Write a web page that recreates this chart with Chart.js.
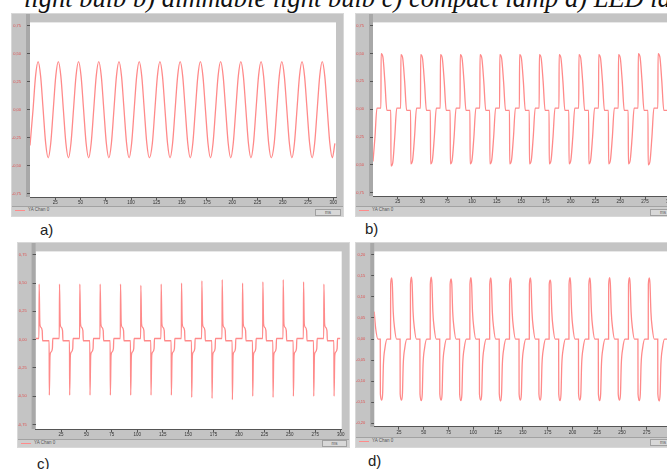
<!DOCTYPE html>
<html>
<head>
<meta charset="utf-8">
<script src="https://cdn.jsdelivr.net/npm/chart.js@4.4.0/dist/chart.umd.min.js"></script>
<style>
  body { margin: 0; width: 667px; height: 469px; overflow: hidden; background: #fff; position: relative; }
  .caption { position: absolute; left: 24px; top: -15px; font: italic 26.5px/1 "Liberation Serif", serif; white-space: nowrap; color: #111; }
  .panel { position: absolute; box-sizing: border-box; background: #c4c4c4; border: 1px solid #d8d8d8; }
  .panel canvas { position: absolute; left: 0; top: 0; }
  .legend { position: absolute; left: 0; right: 0; background: #cecece; border-top: 1px solid #a2a2a2; box-sizing: border-box; }
  .legend .swatch { position: absolute; left: 3px; top: 3px; width: 10px; height: 1px; background: #ff8a8a; }
  .legend .name { position: absolute; left: 16px; top: 1px; font: 4.5px/1 "Liberation Sans", sans-serif; color: #555; white-space: nowrap; }
  .unit { position: absolute; box-sizing: border-box; background: #d8d8d8; border: 1px solid #a0a0a0; font: 4.5px/5px "Liberation Sans", sans-serif; color: #555; text-align: center; }
  .tag { position: absolute; font: 15px/1 "Liberation Sans", sans-serif; color: #222; }
</style>
</head>
<body>
<div class="caption">light bulb b) dimmable light bulb c) compact lamp d) LED lamp</div>

<div class="panel" style="left:11px; top:13px; width:333px; height:204px;">
  <canvas id="chartA" width="331" height="192"></canvas>
  <div class="legend" style="top:192px; height:10px;"><span class="swatch"></span><span class="name">YA Chan 0</span></div>
  <div class="unit" style="left:303px; top:195px; width:26px; height:7px;">ms</div>
</div>
<div class="panel" style="left:355px; top:13px; width:322px; height:204px;">
  <canvas id="chartB" width="320" height="192"></canvas>
  <div class="legend" style="top:192px; height:10px;"><span class="swatch"></span><span class="name">YA Chan 0</span></div>
  <div class="unit" style="left:294px; top:195px; width:26px; height:7px;">ms</div>
</div>
<div class="panel" style="left:17px; top:242px; width:333px; height:206px;">
  <canvas id="chartC" width="331" height="196"></canvas>
  <div class="legend" style="top:196px; height:8px;"><span class="swatch"></span><span class="name">YA Chan 0</span></div>
  <div class="unit" style="left:304px; top:197px; width:25px; height:7px;">ms</div>
</div>
<div class="panel" style="left:355px; top:242px; width:322px; height:206px;">
  <canvas id="chartD" width="320" height="194"></canvas>
  <div class="legend" style="top:194px; height:10px;"><span class="swatch"></span><span class="name">YA Chan 0</span></div>
  <div class="unit" style="left:294px; top:196px; width:26px; height:7px;">ms</div>
</div>

<div class="tag" style="left:40px; top:222px;">a)</div>
<div class="tag" style="left:365px; top:221px;">b)</div>
<div class="tag" style="left:37px; top:456px;">c)</div>
<div class="tag" style="left:368px; top:453px;">d)</div>

<script>
// tick marks shared by the four scope windows
const xTicks = [25, 50, 75, 100, 125, 150, 175, 200, 225, 250, 275, 300];
const yTicksMain = [-0.75, -0.5, -0.25, 0, 0.25, 0.5, 0.75];
const yTicksLed = [-0.2, -0.15, -0.1, -0.05, 0, 0.05, 0.1, 0.15, 0.2];

// a) light bulb: time (ms) and value
const timeA = [
  0, 3, 5.5, 8, 10.5, 13, 15.5, 18,
  20.5, 23, 25.5, 28, 30.5, 33, 35.5, 38,
  40.5, 43, 45.5, 48, 50.5, 53, 55.5, 58,
  60.5, 63, 65.5, 68, 70.5, 73, 75.5, 78,
  80.5, 83, 85.5, 88, 90.5, 93, 95.5, 98,
  100.5, 103, 105.5, 108, 110.5, 113, 115.5, 118,
  121, 123.5, 126, 128.5, 131, 133.5, 136, 138.5,
  141, 143.5, 146, 148.5, 151, 153.5, 156, 158.5,
  161, 163.5, 166, 168.5, 171, 173.5, 176, 178.5,
  181, 183.5, 186, 188.5, 191, 193.5, 196, 198.5,
  201, 203.5, 206, 208.5, 211, 213.5, 216, 218.5,
  221, 223.5, 226, 228.5, 231, 233.5, 236, 238.5,
  241.5, 244, 246.5, 249, 251.5, 254, 256.5, 259,
  261.5, 264, 266.5, 269, 271.5, 274, 276.5, 279,
  281.5, 284, 286.5, 289, 291.5, 294, 296.5, 299,
  301.5
];
const valueA = [
  -0.32, 0.00, 0.30, 0.43, 0.30, 0.00, -0.30, -0.43,
  -0.30, 0.00, 0.30, 0.43, 0.30, 0.00, -0.30, -0.43,
  -0.30, 0.00, 0.30, 0.43, 0.30, 0.00, -0.30, -0.43,
  -0.30, 0.00, 0.30, 0.43, 0.30, 0.00, -0.30, -0.43,
  -0.30, 0.00, 0.30, 0.43, 0.30, 0.00, -0.30, -0.43,
  -0.30, 0.00, 0.30, 0.43, 0.30, 0.00, -0.30, -0.43,
  -0.30, 0.00, 0.30, 0.43, 0.30, 0.00, -0.30, -0.43,
  -0.30, 0.00, 0.30, 0.43, 0.30, 0.00, -0.30, -0.43,
  -0.30, 0.00, 0.30, 0.43, 0.30, 0.00, -0.30, -0.43,
  -0.30, 0.00, 0.30, 0.43, 0.30, 0.00, -0.30, -0.43,
  -0.30, 0.00, 0.30, 0.43, 0.30, 0.00, -0.30, -0.43,
  -0.30, 0.00, 0.30, 0.43, 0.30, 0.00, -0.30, -0.43,
  -0.30, 0.00, 0.30, 0.43, 0.30, 0.00, -0.30, -0.43,
  -0.30, 0.00, 0.30, 0.43, 0.30, 0.00, -0.30, -0.43,
  -0.30, 0.00, 0.30, 0.43, 0.30, 0.00, -0.30, -0.43,
  -0.30
];

// b) dimmable light bulb
const timeB = [
  0, 2, 4,
  8, 8.2, 10, 12, 14, 18, 18.2, 20, 22, 24,
  28, 28.2, 30, 32, 34, 38, 38.2, 40, 42, 44,
  48, 48.2, 50, 52, 54, 58, 58.2, 60, 62, 64,
  68, 68.2, 70, 72, 74, 78, 78.2, 80, 82, 84,
  88, 88.2, 90, 92, 94, 98, 98.2, 100, 102, 104,
  108, 108.2, 110, 112, 114, 118, 118.2, 120, 122, 124,
  128, 128.2, 130, 132, 134, 138, 138.2, 140, 142, 144,
  148, 148.2, 150, 152, 154, 158, 158.2, 160, 162, 164,
  168, 168.2, 170, 172, 174, 178, 178.2, 180, 182, 184,
  188, 188.2, 190, 192, 194, 198, 198.2, 200, 202, 204,
  208, 208.2, 210, 212, 214, 218, 218.2, 220, 222, 224,
  228, 228.2, 230, 232, 234, 238, 238.2, 240, 242, 244,
  248, 248.2, 250, 252, 254, 258, 258.2, 260, 262, 264,
  268, 268.2, 270, 272, 274, 278, 278.2, 280, 282, 284,
  288, 288.2, 290, 292, 294, 298, 298.2, 300, 302, 304
];
const valueB = [
  -0.47, -0.25, 0.01,
  0.01, 0.50, 0.47, 0.25, -0.01, -0.01, -0.51, -0.48, -0.25, 0.01,
  0.01, 0.49, 0.46, 0.25, -0.01, -0.01, -0.49, -0.46, -0.25, 0.01,
  0.01, 0.49, 0.46, 0.25, -0.01, -0.01, -0.49, -0.46, -0.25, 0.01,
  0.01, 0.49, 0.46, 0.25, -0.01, -0.01, -0.49, -0.46, -0.25, 0.01,
  0.01, 0.49, 0.46, 0.25, -0.01, -0.01, -0.49, -0.46, -0.25, 0.01,
  0.01, 0.49, 0.46, 0.25, -0.01, -0.01, -0.49, -0.46, -0.25, 0.01,
  0.01, 0.49, 0.46, 0.25, -0.01, -0.01, -0.49, -0.46, -0.25, 0.01,
  0.01, 0.49, 0.46, 0.25, -0.01, -0.01, -0.49, -0.46, -0.25, 0.01,
  0.01, 0.49, 0.46, 0.25, -0.01, -0.01, -0.49, -0.46, -0.25, 0.01,
  0.01, 0.49, 0.46, 0.25, -0.01, -0.01, -0.49, -0.46, -0.25, 0.01,
  0.01, 0.49, 0.46, 0.25, -0.01, -0.01, -0.49, -0.46, -0.25, 0.01,
  0.01, 0.49, 0.46, 0.25, -0.01, -0.01, -0.49, -0.46, -0.25, 0.01,
  0.01, 0.49, 0.46, 0.25, -0.01, -0.01, -0.49, -0.46, -0.25, 0.01,
  0.01, 0.50, 0.47, 0.25, -0.01, -0.01, -0.50, -0.47, -0.25, 0.01,
  0.01, 0.50, 0.47, 0.25, -0.01, -0.01, -0.51, -0.48, -0.25, 0.01
];

// c) compact lamp
const timeC = [
  0,
  3.3, 3.5, 4.2, 5.1, 6.5, 6.9, 13.3, 13.5, 14.2, 15.1, 16.5, 16.9,
  23.3, 23.5, 24.2, 25.1, 26.5, 26.9, 33.3, 33.5, 34.2, 35.1, 36.5, 36.9,
  43.3, 43.5, 44.2, 45.1, 46.5, 46.9, 53.3, 53.5, 54.2, 55.1, 56.5, 56.9,
  63.3, 63.5, 64.2, 65.1, 66.5, 66.9, 73.3, 73.5, 74.2, 75.1, 76.5, 76.9,
  83.3, 83.5, 84.2, 85.1, 86.5, 86.9, 93.3, 93.5, 94.2, 95.1, 96.5, 96.9,
  103.3, 103.5, 104.2, 105.1, 106.5, 106.9, 113.3, 113.5, 114.2, 115.1, 116.5, 116.9,
  123.3, 123.5, 124.2, 125.1, 126.5, 126.9, 133.3, 133.5, 134.2, 135.1, 136.5, 136.9,
  143.3, 143.5, 144.2, 145.1, 146.5, 146.9, 153.3, 153.5, 154.2, 155.1, 156.5, 156.9,
  163.3, 163.5, 164.2, 165.1, 166.5, 166.9, 173.3, 173.5, 174.2, 175.1, 176.5, 176.9,
  183.3, 183.5, 184.2, 185.1, 186.5, 186.9, 193.3, 193.5, 194.2, 195.1, 196.5, 196.9,
  203.3, 203.5, 204.2, 205.1, 206.5, 206.9, 213.3, 213.5, 214.2, 215.1, 216.5, 216.9,
  223.3, 223.5, 224.2, 225.1, 226.5, 226.9, 233.3, 233.5, 234.2, 235.1, 236.5, 236.9,
  243.3, 243.5, 244.2, 245.1, 246.5, 246.9, 253.3, 253.5, 254.2, 255.1, 256.5, 256.9,
  263.3, 263.5, 264.2, 265.1, 266.5, 266.9, 273.3, 273.5, 274.2, 275.1, 276.5, 276.9,
  283.3, 283.5, 284.2, 285.1, 286.5, 286.9, 293.3, 293.5, 294.2, 295.1, 296.5, 296.9,
  299.5
];
const valueC = [
  0.01,
  0.01, 0.49, 0.14, 0.11, 0.08, -0.01, -0.01, -0.49, -0.14, -0.11, -0.08, 0.01,
  0.01, 0.49, 0.14, 0.11, 0.08, -0.01, -0.01, -0.49, -0.14, -0.11, -0.08, 0.01,
  0.01, 0.49, 0.14, 0.11, 0.08, -0.01, -0.01, -0.49, -0.14, -0.11, -0.08, 0.01,
  0.01, 0.49, 0.14, 0.11, 0.08, -0.01, -0.01, -0.49, -0.14, -0.11, -0.08, 0.01,
  0.01, 0.49, 0.14, 0.11, 0.08, -0.01, -0.01, -0.49, -0.14, -0.11, -0.08, 0.01,
  0.01, 0.48, 0.14, 0.11, 0.08, -0.01, -0.01, -0.49, -0.14, -0.11, -0.08, 0.01,
  0.01, 0.49, 0.14, 0.11, 0.08, -0.01, -0.01, -0.49, -0.14, -0.11, -0.08, 0.01,
  0.01, 0.50, 0.14, 0.11, 0.08, -0.01, -0.01, -0.51, -0.14, -0.11, -0.08, 0.01,
  0.01, 0.52, 0.14, 0.11, 0.08, -0.01, -0.01, -0.52, -0.14, -0.11, -0.08, 0.01,
  0.01, 0.53, 0.14, 0.11, 0.08, -0.01, -0.01, -0.53, -0.14, -0.11, -0.08, 0.01,
  0.01, 0.50, 0.14, 0.11, 0.08, -0.01, -0.01, -0.50, -0.14, -0.11, -0.08, 0.01,
  0.01, 0.51, 0.14, 0.11, 0.08, -0.01, -0.01, -0.51, -0.14, -0.11, -0.08, 0.01,
  0.01, 0.53, 0.14, 0.11, 0.08, -0.01, -0.01, -0.50, -0.14, -0.11, -0.08, 0.01,
  0.01, 0.51, 0.14, 0.11, 0.08, -0.01, -0.01, -0.50, -0.14, -0.11, -0.08, 0.01,
  0.01, 0.49, 0.14, 0.11, 0.08, -0.01, -0.01, -0.50, -0.14, -0.11, -0.08, 0.01,
  0.01
];

// d) LED lamp
const timeD = [
  0, 1.5, 3.8,
  6.1, 6.2, 7.6, 8.5, 9.3, 10.8, 13.0, 16.5, 16.6, 17.6, 18.3, 19.2, 20.6, 22.6,
  26.1, 26.2, 27.6, 28.5, 29.3, 30.8, 33.0, 36.5, 36.6, 37.6, 38.3, 39.2, 40.6, 42.6,
  46.1, 46.2, 47.6, 48.5, 49.3, 50.8, 53.0, 56.5, 56.6, 57.6, 58.3, 59.2, 60.6, 62.6,
  66.1, 66.2, 67.6, 68.5, 69.3, 70.8, 73.0, 76.5, 76.6, 77.6, 78.3, 79.2, 80.6, 82.6,
  86.1, 86.2, 87.6, 88.5, 89.3, 90.8, 93.0, 96.5, 96.6, 97.6, 98.3, 99.2, 100.6, 102.6,
  106.1, 106.2, 107.6, 108.5, 109.3, 110.8, 113.0, 116.5, 116.6, 117.6, 118.3, 119.2, 120.6, 122.6,
  126.1, 126.2, 127.6, 128.5, 129.3, 130.8, 133.0, 136.5, 136.6, 137.6, 138.3, 139.2, 140.6, 142.6,
  146.1, 146.2, 147.6, 148.5, 149.3, 150.8, 153.0, 156.5, 156.6, 157.6, 158.3, 159.2, 160.6, 162.6,
  166.1, 166.2, 167.6, 168.5, 169.3, 170.8, 173.0, 176.5, 176.6, 177.6, 178.3, 179.2, 180.6, 182.6,
  186.1, 186.2, 187.6, 188.5, 189.3, 190.8, 193.0, 196.5, 196.6, 197.6, 198.3, 199.2, 200.6, 202.6,
  206.1, 206.2, 207.6, 208.5, 209.3, 210.8, 213.0, 216.5, 216.6, 217.6, 218.3, 219.2, 220.6, 222.6,
  226.1, 226.2, 227.6, 228.5, 229.3, 230.8, 233.0, 236.5, 236.6, 237.6, 238.3, 239.2, 240.6, 242.6,
  246.1, 246.2, 247.6, 248.5, 249.3, 250.8, 253.0, 256.5, 256.6, 257.6, 258.3, 259.2, 260.6, 262.6,
  266.1, 266.2, 267.6, 268.5, 269.3, 270.8, 273.0, 276.5, 276.6, 277.6, 278.3, 279.2, 280.6, 282.6,
  286.1, 286.2, 287.6, 288.5, 289.3, 290.8, 293.0, 296.5, 296.6, 297.6, 298.3, 299.2, 300.6, 302.6
];
const valueD = [
  0.065, 0.025, 0,
  0, -0.13, -0.145, -0.13, -0.06, -0.022, 0, 0, 0.13, 0.145, 0.13, 0.065, 0.025, 0,
  0, -0.13, -0.145, -0.13, -0.06, -0.022, 0, 0, 0.13, 0.147, 0.13, 0.065, 0.025, 0,
  0, -0.13, -0.146, -0.13, -0.06, -0.022, 0, 0, 0.13, 0.147, 0.13, 0.065, 0.025, 0,
  0, -0.13, -0.145, -0.13, -0.06, -0.022, 0, 0, 0.13, 0.143, 0.13, 0.065, 0.025, 0,
  0, -0.13, -0.146, -0.13, -0.06, -0.022, 0, 0, 0.13, 0.146, 0.13, 0.065, 0.025, 0,
  0, -0.13, -0.145, -0.13, -0.06, -0.022, 0, 0, 0.13, 0.145, 0.13, 0.065, 0.025, 0,
  0, -0.13, -0.147, -0.13, -0.06, -0.022, 0, 0, 0.13, 0.145, 0.13, 0.065, 0.025, 0,
  0, -0.13, -0.145, -0.13, -0.06, -0.022, 0, 0, 0.13, 0.145, 0.13, 0.065, 0.025, 0,
  0, -0.13, -0.145, -0.13, -0.06, -0.022, 0, 0, 0.13, 0.140, 0.13, 0.065, 0.025, 0,
  0, -0.13, -0.146, -0.13, -0.06, -0.022, 0, 0, 0.13, 0.146, 0.13, 0.065, 0.025, 0,
  0, -0.13, -0.145, -0.13, -0.06, -0.022, 0, 0, 0.13, 0.145, 0.13, 0.065, 0.025, 0,
  0, -0.13, -0.146, -0.13, -0.06, -0.022, 0, 0, 0.13, 0.146, 0.13, 0.065, 0.025, 0,
  0, -0.13, -0.145, -0.13, -0.06, -0.022, 0, 0, 0.13, 0.146, 0.13, 0.065, 0.025, 0,
  0, -0.13, -0.146, -0.13, -0.06, -0.022, 0, 0, 0.13, 0.145, 0.13, 0.065, 0.025, 0,
  0, -0.13, -0.147, -0.13, -0.06, -0.022, 0, 0, 0.13, 0.145, 0.13, 0.065, 0.025, 0
];

const traceRed = '#ff8a8a';

// white plot area + darker band on the right of the value strip
const scopeArea = {
  id: 'scopeArea',
  beforeDraw(chart) {
    const { ctx, chartArea } = chart;
    ctx.save();
    ctx.fillStyle = '#ffffff';
    ctx.fillRect(chartArea.left, chartArea.top, chartArea.right - chartArea.left, chartArea.bottom - chartArea.top);
    ctx.fillStyle = '#a8a8a8';
    ctx.fillRect(chartArea.left - 4, 0, 4, chartArea.bottom);
    ctx.restore();
  },
};

const makeScope = (id, times, values, yTicks, cfg) => {
  const points = times.map((t, i) => ({ x: t, y: values[i] }));
  return new Chart(document.getElementById(id), {
    type: 'line',
    data: {
      datasets: [
        {
          data: points,
          borderColor: traceRed,
          borderWidth: 1.3,
          pointRadius: 0,
          fill: false,
          cubicInterpolationMode: 'monotone',
        },
      ],
    },
    options: {
      responsive: false,
      animation: false,
      devicePixelRatio: 1,
      layout: { padding: { top: cfg.padTop, right: cfg.padRight, left: 0, bottom: 0 } },
      plugins: { legend: { display: false }, tooltip: { enabled: false } },
      scales: {
        x: {
          type: 'linear',
          min: 0,
          max: cfg.xMax,
          afterFit: (scale) => { scale.height = cfg.xHeight; },
          afterBuildTicks: (scale) => { scale.ticks = xTicks.map((v) => ({ value: v })); },
          grid: { drawOnChartArea: false, tickLength: 3, color: '#555' },
          border: { color: '#555' },
          ticks: {
            font: { size: 4.5, family: 'Liberation Sans' },
            color: '#333',
            padding: 0,
            maxRotation: 0,
            autoSkip: false,
            callback: (v) => String(v),
          },
        },
        y: {
          min: cfg.yMin,
          max: cfg.yMax,
          afterFit: (scale) => { scale.width = cfg.yWidth; },
          afterBuildTicks: (scale) => { scale.ticks = yTicks.map((v) => ({ value: v })); },
          grid: { drawOnChartArea: false, tickLength: 3, color: '#555' },
          border: { display: false },
          ticks: {
            font: { size: 4, family: 'Liberation Sans' },
            color: '#e05050',
            padding: 6,
            autoSkip: false,
            callback: (v) => v.toFixed(2).replace('.', ','),
          },
        },
      },
    },
    plugins: [scopeArea],
  });
};

makeScope('chartA', timeA, valueA, yTicksMain, { xMax: 302.6, yMin: -0.78, yMax: 0.78, yWidth: 18, xHeight: 9, padTop: 1, padRight: 7 });
makeScope('chartB', timeB, valueB, yTicksMain, { xMax: 303, yMin: -0.78, yMax: 0.78, yWidth: 17, xHeight: 10, padTop: 1, padRight: 3.3 });
makeScope('chartC', timeC, valueC, yTicksMain, { xMax: 301, yMin: -0.79, yMax: 0.78, yWidth: 17.6, xHeight: 10, padTop: 1, padRight: 7.3 });
makeScope('chartD', timeD, valueD, yTicksLed, { xMax: 303, yMin: -0.208, yMax: 0.208, yWidth: 18.2, xHeight: 10.3, padTop: 2, padRight: 1.5 });
</script>
</body>
</html>
